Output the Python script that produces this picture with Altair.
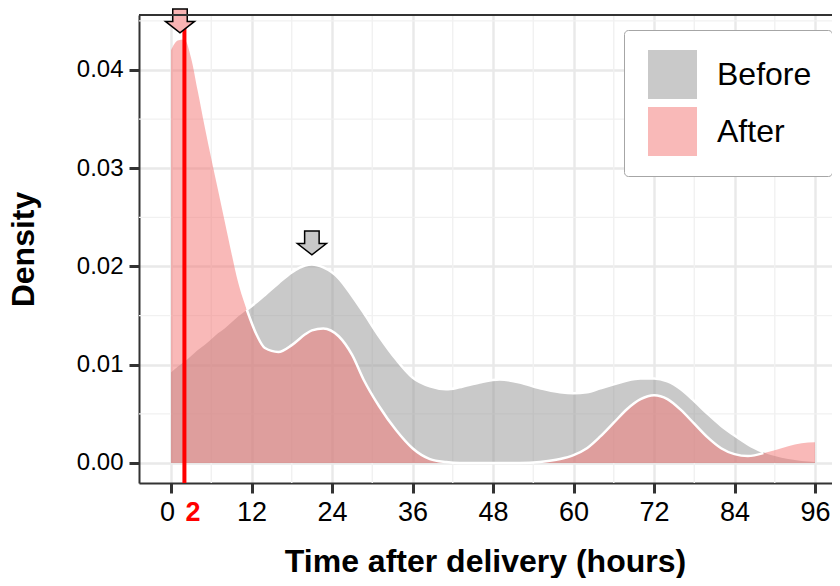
import altair as alt
import pandas as pd

# ---- data ----
hours = [0, 1, 2, 3, 4, 5, 6, 7, 8, 9, 10,
         11.3, 12.8, 14, 16, 18, 20, 21, 22.7,
         25, 27, 28.7, 31, 33.6, 36, 38.6,
         41, 43, 46, 49, 52, 55, 58,
         60, 62, 64, 66, 68, 70, 72, 74, 76, 78, 80, 82, 84, 86,
         88.3, 90, 92, 94, 96]
before = [0.0092, 0.0098, 0.0103, 0.0109, 0.0115, 0.0120, 0.0126, 0.0132, 0.0137, 0.0143, 0.0149,
          0.0156, 0.0164, 0.0171, 0.0183, 0.0194, 0.0201, 0.0202, 0.0199,
          0.0188, 0.0170, 0.0153, 0.0129, 0.0105, 0.0087, 0.0078,
          0.0075, 0.0077, 0.0082, 0.0085, 0.0082, 0.0076, 0.0072,
          0.0071, 0.0072, 0.0076, 0.0080, 0.0084, 0.0086, 0.0086, 0.0083, 0.0075, 0.0063, 0.0050, 0.0038, 0.0028, 0.0019,
          0.0011, 0.0007, 0.0004, 0.0002, 0.0001]
after = [0.0420, 0.0430, 0.0431, 0.0412, 0.0378, 0.0343, 0.0310, 0.0278, 0.0246, 0.0214, 0.0184,
         0.0156, 0.0130, 0.0117, 0.0113, 0.0120, 0.0131, 0.0135, 0.0137,
         0.0129, 0.0110, 0.0085, 0.0058, 0.0033, 0.0015, 0.0004,
         0.0001, 0.0, 0.0, 0.0, 0.0, 0.0001, 0.0004,
         0.0008, 0.0015, 0.0027, 0.0041, 0.0055, 0.0065, 0.0069, 0.0065, 0.0054, 0.0040, 0.0026, 0.0015, 0.0009, 0.0007,
         0.0010, 0.0013, 0.0017, 0.0020, 0.0021]

groups = ["Before", "After"]
group_colors = ["#939393", "#f37371"]

x_ticks = [0, 2, 12, 24, 36, 48, 60, 72, 84, 96]
x_minor = [6, 18, 30, 42, 54, 66, 78, 90]
y_ticks = [0.0, 0.01, 0.02, 0.03, 0.04]
y_minor = [0.005, 0.015, 0.025, 0.035, 0.045]

marker_hour = [2]

arrow_hours = [1.34, 21.0]
arrow_density = [0.0450, 0.0224]
arrow_fill = ["#f9b4b4", "#c8c8c8"]

# ---- tables ----
wide = pd.DataFrame({"hours": hours, "before": before, "after": after})
long = pd.concat([
    pd.DataFrame({"hours": hours, "density": before, "group": "Before"}),
    pd.DataFrame({"hours": hours, "density": after, "group": "After"}),
])
arrows = pd.DataFrame({"hours": arrow_hours, "density": arrow_density, "fill": arrow_fill})

W, H = 693, 468
FONT = "Liberation Sans"

xscale = alt.Scale(domain=[-4.77, 98.53], nice=False, zero=False)
yscale = alt.Scale(domain=[-0.002036, 0.045597], nice=False, zero=False)

is2 = "datum.value == 2"
xaxis = alt.Axis(
    values=x_ticks, title="Time after delivery (hours)",
    labelFont=FONT, labelFontSize=27,
    labelColor={"condition": {"test": is2, "value": "#ff0000"}, "value": "black"},
    labelFontWeight={"condition": {"test": is2, "value": "bold"}, "value": "normal"},
    labelOffset={"condition": [{"test": is2, "value": 8}, {"test": "datum.value == 0", "value": -4}], "value": 0},
    tickOpacity={"condition": {"test": is2, "value": 0}, "value": 1},
    gridOpacity={"condition": {"test": is2, "value": 0}, "value": 1},
    labelPadding=6, tickSize=10, tickWidth=3, tickColor="#333333",
    domainColor="#333333", domainWidth=2,
    gridColor="#e9e9e9", gridWidth=2.4,
    titleFont=FONT, titleFontSize=32, titleFontWeight="bold", titleColor="black",
    titleX=346, titleY=88, titleBaseline="alphabetic", titleAlign="center",
)
yaxis = alt.Axis(
    values=y_ticks, format=".2f", title="Density",
    labelFont=FONT, labelFontSize=24, labelColor="black", labelPadding=6,
    tickSize=10, tickWidth=3, tickColor="#333333",
    domainColor="#333333", domainWidth=2,
    gridColor="#e9e9e9", gridWidth=2.4,
    titleFont=FONT, titleFontSize=32, titleFontWeight="bold", titleColor="black",
    titleX=-106, titleY=234, titleAngle=270, titleBaseline="alphabetic", titleAlign="center",
)


def X(field):
    return alt.X(field, type="quantitative", scale=xscale, axis=xaxis)


def Y(field):
    return alt.Y(field, type="quantitative", scale=yscale, axis=yaxis, stack=None)


color = alt.Color(
    "group:N",
    scale=alt.Scale(domain=groups, range=group_colors),
    legend=alt.Legend(
        title=None, orient="none", legendX=485, legendY=15,
        symbolType="square", symbolSize=2401, symbolOpacity=0.5, symbolStrokeWidth=0,
        labelFont=FONT, labelFontSize=32, labelColor="black", labelOffset=20,
        rowPadding=8, padding=20, symbolOffset=4,
        strokeColor="#a6a6a6", fillColor="white", cornerRadius=4,
    ),
)

minor_x = alt.Chart(pd.DataFrame({"v": x_minor})).mark_rule(
    color="#f1f1f1", strokeWidth=1.4).encode(x=X("v"))
minor_y = alt.Chart(pd.DataFrame({"v": y_minor})).mark_rule(
    color="#f1f1f1", strokeWidth=1.4).encode(y=Y("v"))

area_before = alt.Chart(long).transform_filter("datum.group == 'Before'").mark_area(
    interpolate="monotone", opacity=0.5).encode(x=X("hours"), y=Y("density"), color=color)
area_after = alt.Chart(long).transform_filter("datum.group == 'After'").mark_area(
    interpolate="monotone", opacity=0.5).encode(x=X("hours"), y=Y("density"), color=color)

line_before = alt.Chart(wide).transform_filter("datum.before >= datum.after").mark_line(
    interpolate="monotone", color="white", strokeWidth=2.5).encode(x=X("hours"), y=Y("before"))
line_after = alt.Chart(wide).transform_filter("datum.before >= datum.after").mark_line(
    interpolate="monotone", color="white", strokeWidth=2.5).encode(x=X("hours"), y=Y("after"))

red_rule = alt.Chart(pd.DataFrame({"v": marker_hour})).mark_rule(
    color="#ff0000", strokeWidth=4).encode(x=X("v"))

arrow_path = "M -0.5 -0.82 L 0.5 -0.82 L 0.5 0.04 L 1 0.04 L 0 0.82 L -1 0.04 L -0.5 0.04 Z"
arrow_marks = alt.Chart(arrows).mark_point(
    shape=arrow_path, size=841, filled=True, stroke="black", strokeWidth=1.5, opacity=1
).encode(x=X("hours"), y=Y("density"), fill=alt.Fill("fill:N", scale=None))

top_border = alt.Chart(pd.DataFrame({"a": [0]})).mark_rule(
    color="#333333", strokeWidth=2).encode(x=alt.value(0), x2=alt.value(W), y=alt.value(0))

chart = alt.layer(
    minor_x, minor_y, area_before, area_after, line_before, line_after,
    red_rule, arrow_marks, top_border
).properties(
    width=W, height=H,
    padding={"left": 131, "top": 7, "right": 0, "bottom": 95},
    autosize=alt.AutoSizeParams(type="none"),
).configure_view(stroke=None).configure(font=FONT)

chart.save("out.html", embed_options={"renderer": "svg", "actions": False})
